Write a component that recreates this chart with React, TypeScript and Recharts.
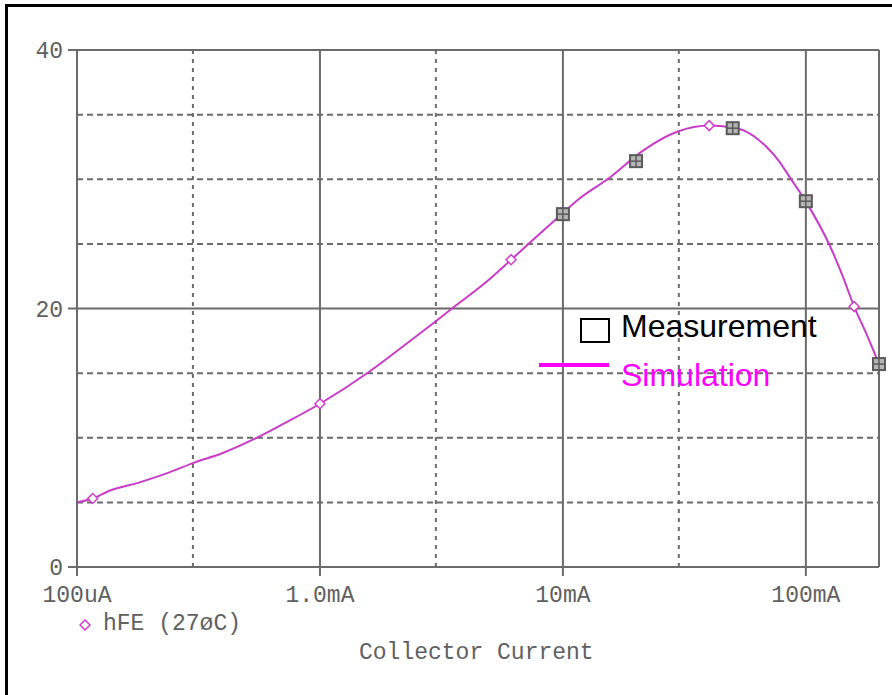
import { ComposedChart, Line, Scatter, XAxis, YAxis, ReferenceLine } from 'recharts';

// simulated hFE curve (collector current in A)
const simCurrent = [1e-4, 1.16e-4, 1.36e-4, 1.81e-4, 2.4e-4, 3.0e-4, 3.98e-4, 5.29e-4, 7.03e-4, 1e-3, 1.6e-3, 2.12e-3, 2.99e-3, 3.58e-3, 4.68e-3, 6.12e-3, 7.28e-3, 9.9e-3, 1.15e-2, 1.55e-2, 2.13e-2, 2.97e-2, 4.0e-2, 4.97e-2, 5.68e-2, 6.86e-2, 7.78e-2, 8.55e-2, 0.1, 0.125, 0.142, 0.158, 0.177, 0.2];
const simHfe = [5.0, 5.3, 5.9, 6.55, 7.32, 8.04, 8.82, 9.85, 11.05, 12.63, 15.13, 16.85, 19.0, 20.15, 21.83, 23.77, 25.06, 27.32, 28.4, 30.1, 32.2, 33.69, 34.15, 34.0, 33.69, 32.53, 31.37, 30.2, 28.27, 24.93, 22.47, 20.15, 18.1, 15.7];

// marker positions on the simulated trace
const markCurrent = [1.16e-4, 1e-3, 6.12e-3, 4.0e-2, 0.158];
const markHfe = [5.3, 12.63, 23.77, 34.15, 20.15];

// measured points
const measCurrent = [1e-2, 2e-2, 5e-2, 1e-1, 2e-1];
const measHfe = [27.3, 31.4, 33.95, 28.3, 15.7];

const xTicks = [1e-4, 1e-3, 1e-2, 1e-1];
const xTickLabels = ['100uA', '1.0mA', '10mA', '100mA'];
const yTicks = [0, 20, 40];
const xMajorGrid = [1e-3, 1e-2, 1e-1, 0.2];
const xMinorGrid = [3e-4, 3e-3, 3e-2];
const yMajorGrid = [20, 40];
const yMinorGrid = [5, 10, 15, 25, 30, 35];

const simData = simCurrent.map((i, k) => ({ i, hfe: simHfe[k] }));
const markData = markCurrent.map((i, k) => ({ i, hfe: markHfe[k] }));
const measData = measCurrent.map((i, k) => ({ i, hfe: measHfe[k] }));

const AXIS = '#6b6b6b';
const TEXT = '#606060';
const mono = '"Liberation Mono", "Courier New", monospace';
const sans = '"Liberation Sans", Arial, sans-serif';

const Diamond = (props: any) => {
    const { cx, cy } = props;
    const r = 5;
    return (
        <polygon
            points={`${cx},${cy - r} ${cx + r},${cy} ${cx},${cy + r} ${cx - r},${cy}`}
            fill="#fff"
            stroke="#d03cd0"
            strokeWidth={1.5}
        />
    );
};

const MeasBox = (props: any) => {
    const { cx, cy } = props;
    const s = 6;
    return (
        <g>
            <rect x={cx - s} y={cy - s} width={s * 2} height={s * 2} fill="#b5b5b5" stroke="#5a5a5a" strokeWidth={2} />
            <line x1={cx} y1={cy - s} x2={cx} y2={cy + s} stroke="#5a5a5a" strokeWidth={1.5} />
            <line x1={cx - s} y1={cy} x2={cx + s} y2={cy} stroke="#5a5a5a" strokeWidth={1.5} />
        </g>
    );
};

const App = () => {
    return (
        <div style={{ position: 'absolute', left: 0, top: 0, width: 892, height: 695, background: '#fff', overflow: 'hidden' }}>
            {/* outer frame */}
            <div style={{ position: 'absolute', left: 5, top: 4, width: 900, height: 700, borderLeft: '3px solid #000', borderTop: '3px solid #000' }} />

            <div style={{ position: 'absolute', left: 0, top: 0 }}>
                <ComposedChart width={892} height={695} margin={{ top: 50, right: 13, left: 0, bottom: 88 }}>
                    <XAxis
                        dataKey="i"
                        type="number"
                        scale="log"
                        domain={[1e-4, 0.2]}
                        ticks={xTicks}
                        tickFormatter={(v) => xTickLabels[xTicks.indexOf(v)] ?? ''}
                        height={40}
                        axisLine={{ stroke: AXIS, strokeWidth: 2 }}
                        tickLine={{ stroke: AXIS, strokeWidth: 2 }}
                        tickSize={9}
                        tickMargin={10}
                        tick={{ fill: TEXT, fontSize: 23, fontFamily: mono }}
                        interval={0}
                    />
                    <YAxis
                        dataKey="hfe"
                        type="number"
                        domain={[0, 40]}
                        ticks={yTicks}
                        width={77}
                        axisLine={{ stroke: AXIS, strokeWidth: 2 }}
                        tickLine={{ stroke: AXIS, strokeWidth: 2 }}
                        tickSize={9}
                        tickMargin={5}
                        tick={{ fill: TEXT, fontSize: 23, fontFamily: mono }}
                        interval={0}
                    />

                    {yMinorGrid.map((v) => (
                        <ReferenceLine key={`ym${v}`} y={v} stroke={AXIS} strokeWidth={2} strokeDasharray="6 4" />
                    ))}
                    {xMinorGrid.map((v) => (
                        <ReferenceLine key={`xm${v}`} x={v} stroke={AXIS} strokeWidth={2} strokeDasharray="4 5" />
                    ))}
                    {yMajorGrid.map((v) => (
                        <ReferenceLine key={`yM${v}`} y={v} stroke={AXIS} strokeWidth={2} />
                    ))}
                    {xMajorGrid.map((v) => (
                        <ReferenceLine key={`xM${v}`} x={v} stroke={AXIS} strokeWidth={2} />
                    ))}

                    <Line
                        data={simData}
                        dataKey="hfe"
                        type="monotone"
                        stroke="#c83cc8"
                        strokeWidth={2}
                        dot={false}
                        activeDot={false}
                        isAnimationActive={false}
                    />
                    <Scatter data={markData} dataKey="hfe" shape={<Diamond />} isAnimationActive={false} />
                    <Scatter data={measData} dataKey="hfe" shape={<MeasBox />} isAnimationActive={false} />
                </ComposedChart>
            </div>

            {/* trace legend under the axis */}
            <svg style={{ position: 'absolute', left: 79, top: 619 }} width={12} height={12}>
                <polygon points="6,1 11,6 6,11 1,6" fill="#fff" stroke="#d03cd0" strokeWidth={1.5} />
            </svg>
            <div style={{ position: 'absolute', left: 103, top: 611, fontFamily: mono, fontSize: 23, color: TEXT, lineHeight: '26px', whiteSpace: 'pre' }}>
                hFE (27øC)
            </div>
            <div style={{ position: 'absolute', left: 359, top: 640, fontFamily: mono, fontSize: 23, color: TEXT, lineHeight: '26px', whiteSpace: 'pre' }}>
                Collector Current
            </div>

            {/* overlay legend */}
            <div style={{ position: 'absolute', left: 580, top: 318, width: 26, height: 21, border: '2px solid #000', background: '#fff' }} />
            <div style={{ position: 'absolute', left: 621, top: 308, fontFamily: sans, fontSize: 32, color: '#000', lineHeight: '36px', whiteSpace: 'pre' }}>
                Measurement
            </div>
            <div style={{ position: 'absolute', left: 539, top: 363, width: 70, height: 4, background: '#ff00ff' }} />
            <div style={{ position: 'absolute', left: 621, top: 357, fontFamily: sans, fontSize: 32, color: '#ff00ff', lineHeight: '36px', whiteSpace: 'pre' }}>
                Simulation
            </div>
        </div>
    );
};

export default App;
